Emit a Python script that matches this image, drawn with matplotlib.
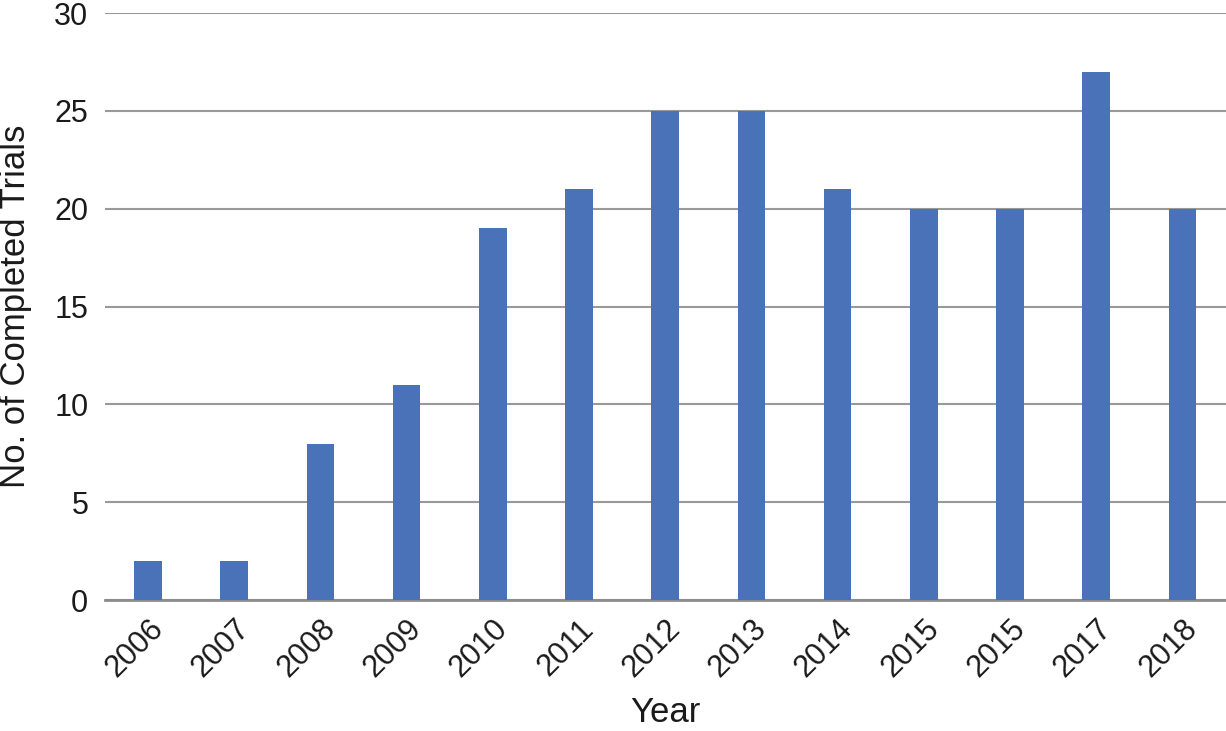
import matplotlib
matplotlib.use("Agg")
import matplotlib.pyplot as plt

years = ["2006", "2007", "2008", "2009", "2010", "2011", "2012",
         "2013", "2014", "2015", "2015", "2017", "2018"]
trials = [2, 2, 8, 11, 19, 21, 25, 25, 21, 20, 20, 27, 20]

plt.rcParams['font.family'] = ['Liberation Sans', 'DejaVu Sans']

fig = plt.figure(figsize=(12.26, 7.31), dpi=100)
ax = fig.add_axes([0.0856, 0.179, 0.914, 0.803])

x = list(range(len(years)))
ax.bar(x, trials, width=0.32, color="#4a72b8", zorder=3)

ax.set_xlim(-0.5, len(years) - 0.5)
ax.set_ylim(0, 30)
ax.set_yticks([0, 5, 10, 15, 20, 25, 30])
ax.yaxis.grid(True, color="#999999", linewidth=1.5, zorder=0)
ax.set_axisbelow(True)
for s in ["top", "right", "left"]:
    ax.spines[s].set_visible(False)
ax.spines["bottom"].set_color("#8c8c8c")
ax.spines["bottom"].set_linewidth(2)

ax.set_xticks(x)
ax.set_xticklabels(years, rotation=45, ha="right", rotation_mode="anchor",
                   fontsize=22, color="#1a1a1a")
ax.tick_params(axis="both", length=0, labelsize=22, colors="#1a1a1a")
ax.tick_params(axis="x", pad=10)
ax.tick_params(axis="y", pad=12)

ax.set_xlabel("Year", fontsize=25, color="#1a1a1a", labelpad=9)
ax.set_ylabel("No. of Completed Trials", fontsize=25, color="#1a1a1a", labelpad=16)

fig.savefig("out.png", dpi=100)
